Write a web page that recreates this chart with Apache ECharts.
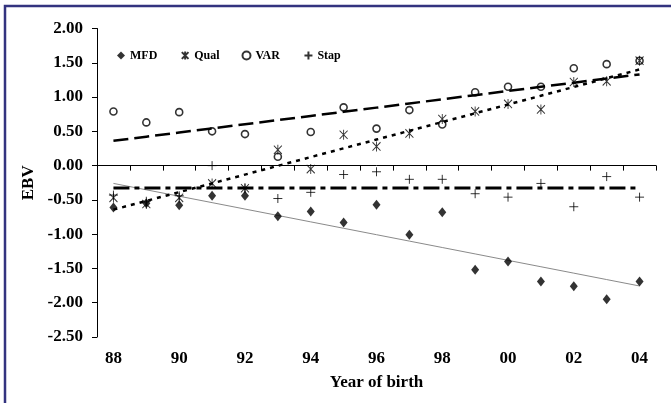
<!DOCTYPE html>
<html>
<head>
<meta charset="utf-8">
<script src="https://cdn.jsdelivr.net/npm/echarts@6/dist/echarts.min.js"></script>
<style>html,body{margin:0;padding:0;background:#fff}#c{width:671px;height:403px}</style>
</head>
<body>
<div id="c"></div>
<script>
const years = ['88','89','90','91','92','93','94','95','96','97','98','99','00','01','02','03','04'];
const mfd  = [-0.61,-0.55,-0.58,-0.44,-0.44,-0.74,-0.67,-0.83,-0.57,-1.01,-0.68,-1.52,-1.40,-1.69,-1.76,-1.95,-1.69];
const qual = [-0.47,-0.56,-0.47,-0.26,-0.33,0.23,-0.05,0.45,0.28,0.47,0.68,0.79,0.90,0.82,1.22,1.23,1.53];
const vr   = [0.79,0.63,0.78,0.50,0.46,0.13,0.49,0.85,0.54,0.81,0.60,1.07,1.15,1.15,1.42,1.48,1.53];
const stap = [-0.43,-0.52,-0.44,0.00,-0.33,-0.48,-0.39,-0.13,-0.09,-0.20,-0.20,-0.41,-0.46,-0.26,-0.60,-0.16,-0.46];
const yTicks = {min: -2.5, max: 2.0, interval: 0.5};

function trend(vals){
  const n = vals.length;
  let sx=0, sy=0, sxx=0, sxy=0;
  vals.forEach((v,i)=>{sx+=i; sy+=v; sxx+=i*i; sxy+=i*v;});
  const b = (n*sxy - sx*sy)/(n*sxx - sx*sx);
  const a = (sy - b*sx)/n;
  return vals.map((_,i)=>a + b*i);
}

const FONT = 'Liberation Serif';
const asterisk = 'path://M0,1L10,11M10,1L0,11M5,0L5,12';
const plus = 'path://M5,0L5,10M0,5L10,5';

const chart = echarts.init(document.getElementById('c'), null, {renderer:'canvas'});
chart.setOption({
  animation: false,
  backgroundColor: '#fff',
  grid: {left: 97, right: 15, top: 28.5, bottom: 66},
  graphic: [{
    type: 'rect', shape: {x: 5, y: 6, width: 720, height: 440},
    style: {fill: 'none', stroke: '#33337f', lineWidth: 2.5}, silent: true, z: 100
  }],
  legend: {
    left: 112, top: 44, itemWidth: 8, itemHeight: 8, itemGap: 22,
    textStyle: {fontFamily: FONT, fontWeight: 'bold', fontSize: 12, color: '#000'},
    data: ['MFD','Qual','VAR','Stap']
  },
  xAxis: {
    type: 'category', data: years, boundaryGap: true,
    name: 'Year of birth', nameLocation: 'middle', nameGap: 37,
    nameTextStyle: {fontFamily: FONT, fontWeight: 'bold', fontSize: 17, color: '#000'},
    axisLine: {lineStyle: {color: '#000', width: 1}},
    axisTick: {show: true, interval: 0, length: 5, lineStyle: {color: '#000'}},
    axisLabel: {interval: 1, margin: 13, fontFamily: FONT, fontWeight: 'bold', fontSize: 17, color: '#000'},
    splitLine: {show: false}
  },
  yAxis: {
    type: 'value', min: yTicks.min, max: yTicks.max, interval: yTicks.interval,
    name: 'EBV', nameLocation: 'middle', nameGap: 56, nameRotate: 90,
    nameTextStyle: {fontFamily: FONT, fontWeight: 'bold', fontSize: 17, color: '#000'},
    axisLine: {show: true, lineStyle: {color: '#000', width: 1}},
    axisTick: {show: true, length: 5, lineStyle: {color: '#000'}},
    axisLabel: {margin: 14, fontFamily: FONT, fontWeight: 'bold', fontSize: 17, color: '#000',
      formatter: v => v.toFixed(2)},
    splitLine: {show: false}
  },
  series: [
    {name: 'MFD trend', type: 'line', data: trend(mfd), showSymbol: false, silent: true,
      lineStyle: {color: '#8a8a8a', width: 1}, z: 1},
    {name: 'VAR trend', type: 'line', data: trend(vr), showSymbol: false, silent: true,
      lineStyle: {color: '#000', width: 2.5, type: [15, 6]}, z: 1},
    {name: 'Qual trend', type: 'line', data: trend(qual), showSymbol: false, silent: true,
      lineStyle: {color: '#000', width: 2.5, type: [4, 5]}, z: 1},
    {name: 'Stap trend', type: 'line', data: trend(stap), showSymbol: false, silent: true,
      lineStyle: {color: '#000', width: 3, type: [16, 5, 5, 5]}, z: 1},
    {name: 'MFD', type: 'scatter', data: mfd, symbol: 'diamond', symbolSize: [8, 10],
      itemStyle: {color: '#000'}, z: 3},
    {name: 'Qual', type: 'scatter', data: qual, symbol: asterisk, symbolSize: [8, 10],
      itemStyle: {color: 'none', borderColor: '#000', borderWidth: 1}, z: 3},
    {name: 'VAR', type: 'scatter', data: vr, symbol: 'circle', symbolSize: 7,
      itemStyle: {color: 'transparent', borderColor: '#000', borderWidth: 1.6}, z: 3},
    {name: 'Stap', type: 'scatter', data: stap, symbol: plus, symbolSize: 9,
      itemStyle: {color: 'none', borderColor: '#000', borderWidth: 1}, z: 3}
  ]
});
</script>
</body>
</html>
